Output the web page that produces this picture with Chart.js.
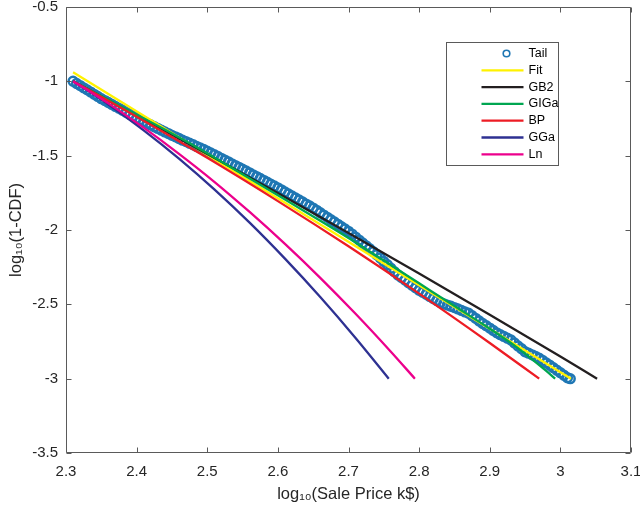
<!DOCTYPE html>
<html><head><meta charset="utf-8">
<script src="https://cdn.jsdelivr.net/npm/chart.js@4.4.0/dist/chart.umd.min.js"></script>
<style>html,body{margin:0;padding:0;background:#fff;}</style>
</head><body>
<canvas id="c" width="640" height="509"></canvas>
<script>
// ---------- data ----------
const tailX = [
2.310,2.315,2.320,2.325,2.330,2.335,2.340,2.345,2.350,2.355,
2.360,2.365,2.370,2.375,2.380,2.385,2.390,2.395,2.400,2.405,
2.410,2.415,2.420,2.425,2.430,2.435,2.440,2.445,2.450,2.455,
2.460,2.465,2.470,2.475,2.480,2.485,2.490,2.495,2.500,2.505,
2.510,2.515,2.520,2.525,2.530,2.535,2.540,2.545,2.550,2.555,
2.560,2.565,2.570,2.575,2.580,2.585,2.590,2.595,2.600,2.605,
2.610,2.615,2.620,2.625,2.630,2.635,2.640,2.645,2.650,2.655,
2.660,2.665,2.670,2.675,2.680,2.685,2.690,2.695,2.700,2.705,
2.710,2.715,2.720,2.725,2.730,2.735,2.740,2.745,2.750,2.755,
2.760,2.765,2.770,2.775,2.780,2.785,2.790,2.795,2.800,2.805,
2.810,2.815,2.820,2.825,2.830,2.835,2.840,2.845,2.850,2.855,
2.860,2.865,2.870,2.875,2.880,2.885,2.890,2.895,2.900,2.905,
2.910,2.915,2.920,2.925,2.930,2.935,2.940,2.945,2.950,2.955,
2.960,2.965,2.970,2.975,2.980,2.985,2.990,2.995,3.000,3.005,
3.010,3.014];
const tailY = [
-1.000,-1.015,-1.029,-1.044,-1.058,-1.073,-1.088,-1.102,-1.117,-1.130,
-1.143,-1.156,-1.169,-1.182,-1.195,-1.209,-1.222,-1.235,-1.248,-1.259,
-1.271,-1.283,-1.294,-1.306,-1.317,-1.329,-1.341,-1.352,-1.364,-1.374,
-1.385,-1.396,-1.406,-1.417,-1.427,-1.438,-1.449,-1.459,-1.470,-1.482,
-1.494,-1.506,-1.518,-1.530,-1.542,-1.555,-1.567,-1.579,-1.591,-1.603,
-1.616,-1.629,-1.641,-1.654,-1.666,-1.679,-1.692,-1.704,-1.717,-1.730,
-1.744,-1.758,-1.771,-1.785,-1.798,-1.812,-1.826,-1.839,-1.853,-1.868,
-1.884,-1.900,-1.915,-1.931,-1.946,-1.962,-1.978,-1.993,-2.009,-2.028,
-2.048,-2.068,-2.087,-2.107,-2.126,-2.146,-2.166,-2.188,-2.212,-2.234,
-2.257,-2.281,-2.303,-2.320,-2.337,-2.355,-2.372,-2.389,-2.406,-2.419,
-2.433,-2.447,-2.461,-2.475,-2.488,-2.497,-2.505,-2.513,-2.522,-2.531,
-2.541,-2.551,-2.560,-2.577,-2.594,-2.612,-2.629,-2.644,-2.660,-2.676,
-2.692,-2.704,-2.716,-2.728,-2.740,-2.760,-2.780,-2.799,-2.819,-2.829,
-2.840,-2.851,-2.862,-2.878,-2.894,-2.910,-2.926,-2.943,-2.960,-2.977,
-2.994,-3.000];

const fitX = [2.31, 3.015];
const fitY = [-0.94, -3.0];

const gb2X = [2.31, 2.40, 2.50, 2.60, 2.70, 2.80, 2.90, 3.00, 3.052];
const gb2Y = [-1.000, -1.229, -1.489, -1.752, -2.020, -2.293, -2.570, -2.851, -3.000];

const gigaX = [2.31, 2.36, 2.40, 2.45, 2.50, 2.55, 2.60, 2.65, 2.70, 2.75, 2.80, 2.85, 2.90, 2.94, 2.96, 2.98, 2.9926];
const gigaY = [-1.000, -1.125, -1.226, -1.351, -1.484, -1.626, -1.767, -1.909, -2.054, -2.206, -2.359, -2.512, -2.664, -2.795, -2.870, -2.948, -3.000];

const bpX = [2.31, 2.40, 2.50, 2.60, 2.70, 2.80, 2.90, 2.97];
const bpY = [-1.000, -1.238, -1.515, -1.806, -2.110, -2.428, -2.760, -3.000];

const ggaX = [2.31, 2.36, 2.41, 2.46, 2.51, 2.56, 2.61, 2.66, 2.71, 2.757];
const ggaY = [-1.000, -1.156, -1.330, -1.520, -1.727, -1.951, -2.193, -2.451, -2.726, -3.000];

const lnX = [2.31, 2.36, 2.41, 2.46, 2.51, 2.56, 2.61, 2.66, 2.71, 2.76, 2.794];
const lnY = [-1.000, -1.149, -1.312, -1.488, -1.676, -1.879, -2.094, -2.322, -2.564, -2.819, -3.000];

const xTicks = [2.3, 2.4, 2.5, 2.6, 2.7, 2.8, 2.9, 3.0, 3.1];
const yTicks = [-3.5, -3, -2.5, -2, -1.5, -1, -0.5];

const seriesNames = ['Tail', 'Fit', 'GB2', 'GIGa', 'BP', 'GGa', 'Ln'];
const seriesColors = ['#1F77B4', '#FFF200', '#231F20', '#00A651', '#ED1C24', '#2E3192', '#EC008C'];
const xTitle = 'log\u2081\u2080(Sale Price k$)';
const yTitle = 'log\u2081\u2080(1-CDF)';

// ---------- build ----------
const pts = (xs, ys) => xs.map((v, i) => ({x: v, y: ys[i]}));
const seriesX = [tailX, fitX, gb2X, gigaX, bpX, ggaX, lnX];
const seriesY = [tailY, fitY, gb2Y, gigaY, bpY, ggaY, lnY];

const datasets = seriesNames.map((name, i) => {
  const base = {
    label: name,
    data: pts(seriesX[i], seriesY[i]),
    order: seriesNames.length - i
  };
  if (i === 0) {
    return Object.assign(base, {
      showLine: false,
      pointStyle: 'circle',
      pointRadius: 4.4,
      pointBorderWidth: 2.5,
      pointBorderColor: seriesColors[0],
      pointBackgroundColor: 'rgba(0,0,0,0)'
    });
  }
  return Object.assign(base, {
    showLine: true,
    borderColor: seriesColors[i],
    backgroundColor: seriesColors[i],
    borderWidth: 2.3,
    pointRadius: 0,
    cubicInterpolationMode: 'monotone',
    fill: false
  });
});

const FONT = 'Liberation Sans, Arial, Helvetica, sans-serif';
const AXIS_COLOR = '#262626';

const framePlugin = {
  id: 'frame',
  afterDatasetsDraw(chart) {
    const {ctx, chartArea: a, scales} = chart;
    const L = Math.round(a.left) + 0.5, R = Math.round(a.right) - 0.5;
    const T = Math.round(a.top) + 0.5, B = Math.round(a.bottom) - 0.5;
    ctx.save();
    ctx.strokeStyle = '#5a5a5a';
    ctx.lineWidth = 1;
    ctx.beginPath();
    ctx.rect(L, T, R - L, B - T);
    const tl = 5;
    xTicks.forEach(v => {
      const px = Math.round(scales.x.getPixelForValue(v)) + 0.5;
      ctx.moveTo(px, B); ctx.lineTo(px, B - tl);
      ctx.moveTo(px, T); ctx.lineTo(px, T + tl);
    });
    yTicks.forEach(v => {
      const py = Math.round(scales.y.getPixelForValue(v)) + 0.5;
      ctx.moveTo(L, py); ctx.lineTo(L + tl, py);
      ctx.moveTo(R, py); ctx.lineTo(R - tl, py);
    });
    ctx.stroke();

    // legend box
    const bx = Math.round(a.right - 185) + 0.5, by = Math.round(a.top + 35) + 0.5;
    const bw = 112, bh = 123;
    ctx.fillStyle = '#ffffff';
    ctx.fillRect(bx, by, bw, bh);
    ctx.strokeStyle = '#5a5a5a';
    ctx.strokeRect(bx, by, bw, bh);
    ctx.font = '12.5px ' + FONT;
    ctx.textBaseline = 'middle';
    ctx.textAlign = 'left';
    seriesNames.forEach((name, i) => {
      const yy = by + 11 + i * 16.8;
      if (i === 0) {
        ctx.beginPath();
        ctx.strokeStyle = seriesColors[0];
        ctx.lineWidth = 1.6;
        ctx.arc(bx + 60, yy, 3.3, 0, Math.PI * 2);
        ctx.stroke();
      } else {
        ctx.beginPath();
        ctx.strokeStyle = seriesColors[i];
        ctx.lineWidth = 2.3;
        ctx.moveTo(bx + 35, yy);
        ctx.lineTo(bx + 77, yy);
        ctx.stroke();
      }
      ctx.fillStyle = '#000';
      ctx.fillText(name, bx + 82, yy);
    });
    ctx.restore();
  }
};

new Chart(document.getElementById('c'), {
  type: 'scatter',
  data: {datasets},
  plugins: [framePlugin],
  options: {
    responsive: false,
    animation: false,
    devicePixelRatio: 1,
    layout: {padding: {left: 0, right: 9, top: 5, bottom: 0}},
    plugins: {legend: {display: false}, tooltip: {enabled: false}},
    scales: {
      x: {
        type: 'linear', min: 2.3, max: 3.1,
        afterBuildTicks: s => { s.ticks = xTicks.map(v => ({value: v})); },
        afterFit: s => { s.height = 56; s.paddingLeft = 0; s.paddingRight = 0; },
        grid: {display: false, drawTicks: false},
        border: {display: false},
        ticks: {
          autoSkip: false, maxRotation: 0, padding: 10,
          color: AXIS_COLOR, font: {family: FONT, size: 15},
          callback: v => String(Math.round(v * 10) / 10)
        },
        title: {display: true, text: xTitle, color: AXIS_COLOR,
                font: {family: FONT, size: 16.5}, padding: {top: 0, bottom: 5}}
      },
      y: {
        type: 'linear', min: -3.5, max: -0.5,
        afterBuildTicks: s => { s.ticks = yTicks.map(v => ({value: v})); },
        afterFit: s => { s.width = 66; s.paddingTop = 0; s.paddingBottom = 0; },
        grid: {display: false, drawTicks: false},
        border: {display: false},
        ticks: {
          autoSkip: false, padding: 8,
          color: AXIS_COLOR, font: {family: FONT, size: 15},
          callback: v => String(Math.round(v * 10) / 10)
        },
        title: {display: true, text: yTitle, color: AXIS_COLOR,
                font: {family: FONT, size: 16.5}, padding: {top: 7, bottom: 0}}
      }
    }
  }
});
</script>
</body></html>
